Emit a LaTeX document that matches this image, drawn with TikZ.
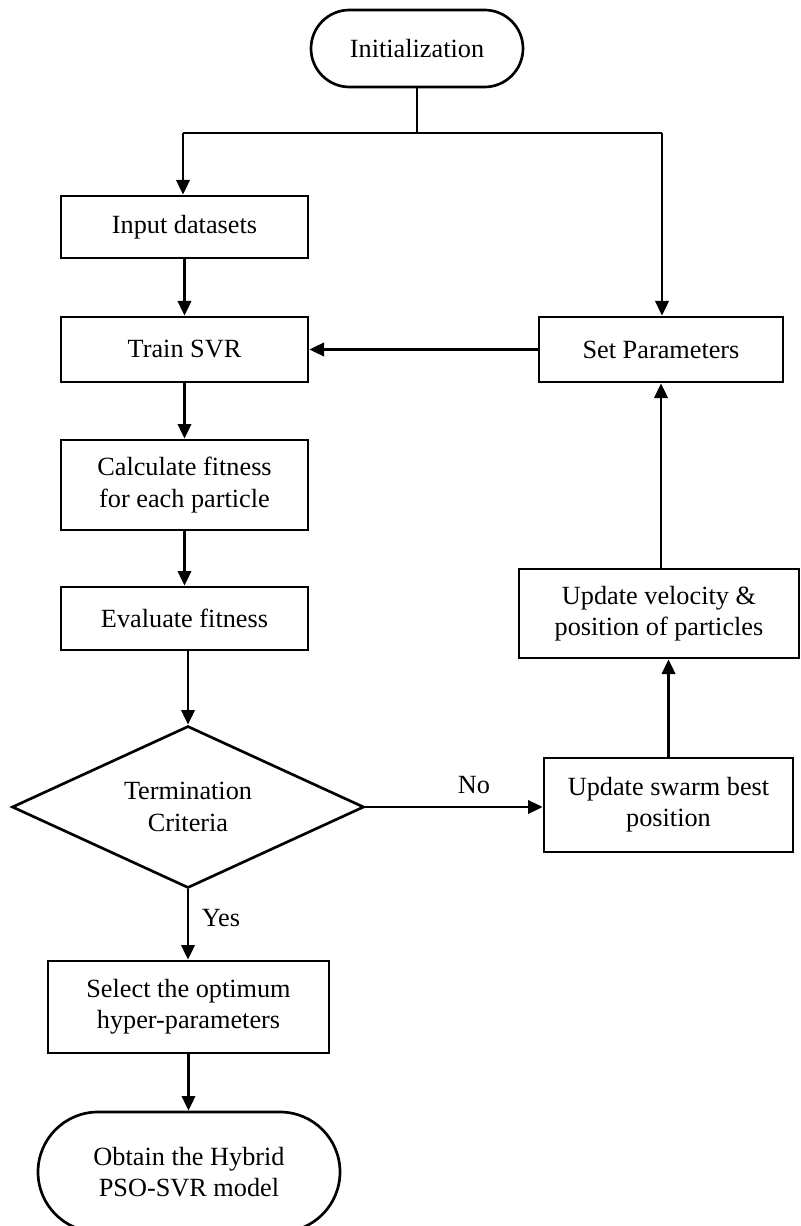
\documentclass[tikz,border=0pt]{standalone}
\usepackage{fontspec}
\setmainfont{Liberation Serif}
\usetikzlibrary{shapes.geometric,shapes.misc,arrows.meta}
\begin{document}
\begin{tikzpicture}[x=0.75pt,y=-0.75pt,
  base/.style={draw=black,line width=2pt,align=center,inner sep=0pt,
    font=\fontsize{19.7}{23.5}\selectfont},
  box/.style={base,rectangle},
  term/.style={base,rounded rectangle},
  decision/.style={base,diamond,aspect=2.2},
  arr/.style={line width=2pt,-{Triangle[length=11pt,width=10pt]}},
  ln/.style={line width=2pt},
  lbl/.style={font=\fontsize{19.7}{23.5}\selectfont,inner sep=0pt}]
\useasboundingbox (0,0) rectangle (800,1226);

\node[term,minimum width=159pt,minimum height=57.75pt] (init) at (417,48.5) {Initialization};
\node[box,minimum width=185.25pt,minimum height=46.5pt] (input) at (184.5,227) {Input datasets};
\node[box,minimum width=185.25pt,minimum height=48.75pt] (train) at (184.5,349.5) {Train SVR};
\node[box,minimum width=185.25pt,minimum height=67.5pt] (calc) at (184.5,485) {Calculate fitness\\for each particle};
\node[box,minimum width=185.25pt,minimum height=47.25pt] (eval) at (184.5,618.5) {Evaluate fitness};
\node[decision,minimum width=264pt,minimum height=121.5pt] (dia) at (188,807) {Termination\\Criteria};
\node[box,minimum width=210.75pt,minimum height=69pt] (select) at (188.5,1007) {Select the optimum\\hyper-parameters};
\node[term,minimum width=226.5pt,minimum height=90pt] (obtain) at (189,1172) {Obtain the Hybrid\\PSO-SVR model};
\node[box,minimum width=183pt,minimum height=48.75pt] (setp) at (661,349.5) {Set Parameters};
\node[box,minimum width=210pt,minimum height=66.75pt] (upvel) at (659,613.5) {Update velocity \&\\position of particles};
\node[box,minimum width=186.75pt,minimum height=70.5pt] (upswarm) at (668.5,805) {Update swarm best\\position};

\coordinate (j) at (417,133);
\coordinate (jl) at (183,133);
\coordinate (jr) at (662,133);

\draw[ln] (init.south) -- (j);
\draw[ln] (jl) -- (jr);
\draw[arr] (jl) -- (jl |- input.north);
\draw[arr] (jr) -- (jr |- setp.north);
\draw[arr] (input.south) -- (train.north);
\draw[arr] (setp.west) -- (train.east);
\draw[arr] (train.south) -- (calc.north);
\draw[arr] (calc.south) -- (eval.north);
\draw[arr] (dia.north |- eval.south) -- (dia.north);
\draw[arr] (dia.east) -- (dia.east -| upswarm.west);
\draw[arr] (upswarm.north) -- (upswarm.north |- upvel.south);
\draw[arr] (setp.south |- upvel.north) -- (setp.south);
\draw[arr] (dia.south) -- (dia.south |- select.north);
\draw[arr] (select.south) -- (select.south |- obtain.north);

\node[lbl] (no) at (474,785) {No};
\node[lbl] (yes) at (221,918) {Yes};
\end{tikzpicture}
\end{document}
